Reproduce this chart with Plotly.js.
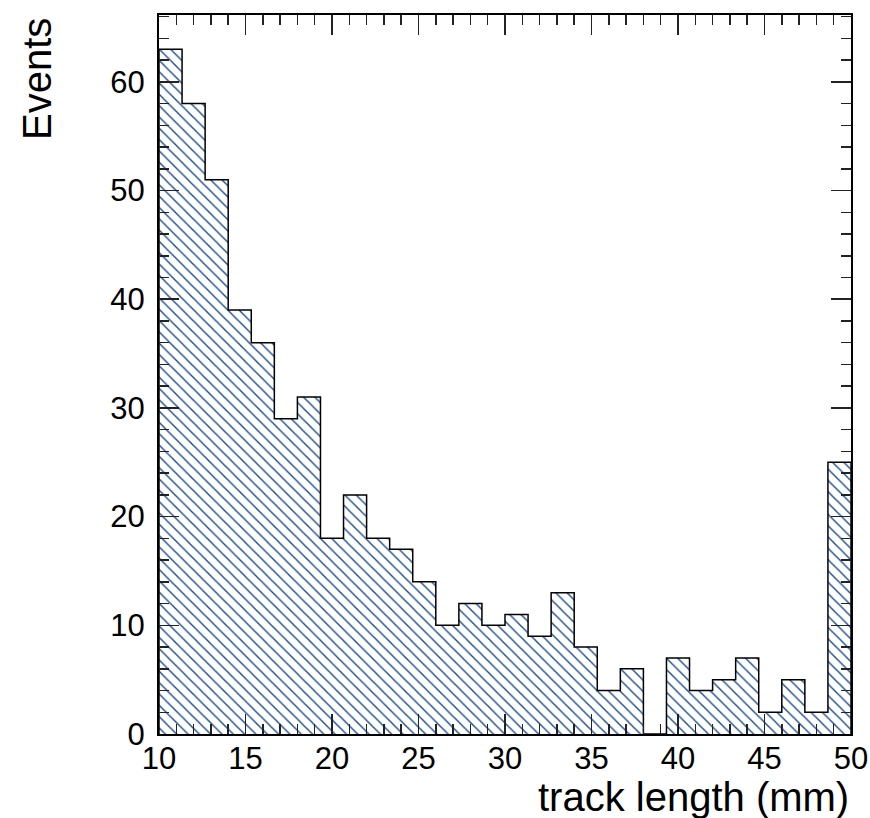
<!DOCTYPE html>
<html>
<head>
<meta charset="utf-8">
<script src="https://cdn.plot.ly/plotly-3.0.1.min.js"></script>
<style>html,body{margin:0;padding:0;background:#fff;}#chart{width:870px;height:818px;}</style>
</head>
<body>
<div id="chart"></div>
<script>
// Histogram: 30 bins from 10 to 50 mm
const xMin = 10;
const xMax = 50;
const counts = [63, 58, 51, 39, 36, 29, 31, 18, 22, 18, 17, 14, 10, 12, 10, 11, 9, 13, 8, 4, 6, 0, 7, 4, 5, 7, 2, 5, 2, 25];
const xTitle = "track length (mm)";
const yTitle = "Events";

const nBins = counts.length;
const binW = (xMax - xMin) / nBins;
const leftEdges = counts.map((_, i) => xMin + i * binW);
const stepX = [xMin].concat(leftEdges, [xMax, xMax]);
const stepY = [0].concat(counts, [counts[nBins - 1], 0]);

const font = "Liberation Sans, Arial, Helvetica, sans-serif";

const traces = [
  {
    type: "bar",
    x: leftEdges,
    y: counts,
    width: binW,
    offset: 0,
    marker: {
      color: "#1f4f8f",
      line: {width: 0},
      pattern: {shape: "\\", size: 8, solidity: 0.18, fgcolor: "#1f4f8f", bgcolor: "rgba(255,255,255,0)", fillmode: "replace"}
    },
    hoverinfo: "x+y"
  },
  {
    type: "scatter",
    mode: "lines",
    x: stepX,
    y: stepY,
    line: {shape: "hv", color: "#000", width: 1.5},
    hoverinfo: "skip"
  }
];

const axisCommon = {
  showline: true,
  linecolor: "#000",
  linewidth: 2,
  mirror: "allticks",
  ticks: "inside",
  ticklen: 20,
  tickwidth: 1.5,
  tickcolor: "#222",
  showgrid: false,
  zeroline: false,
  tickfont: {family: font, size: 31, color: "#000"}
};

const layout = {
  width: 870,
  height: 818,
  margin: {l: 159, r: 19, t: 15, b: 84},
  paper_bgcolor: "#fff",
  plot_bgcolor: "#fff",
  showlegend: false,
  bargap: 0,
  xaxis: Object.assign({}, axisCommon, {
    range: [xMin, xMax],
    tick0: 10,
    dtick: 5,
    ticklabelstandoff: -4,
    minor: {ticks: "inside", ticklen: 10, dtick: 1, tickwidth: 1.5, tickcolor: "#222", showgrid: false}
  }),
  yaxis: Object.assign({}, axisCommon, {
    range: [0, 66.15],
    tick0: 0,
    dtick: 10,
    ticklabelstandoff: 6,
    minor: {ticks: "inside", ticklen: 10, dtick: 2, tickwidth: 1.5, tickcolor: "#222", showgrid: false}
  }),
  annotations: [
    {
      text: xTitle, xref: "paper", yref: "paper", x: 1, y: 0,
      xanchor: "right", yanchor: "top", yshift: -39, showarrow: false,
      font: {family: font, size: 40, color: "#000"}
    },
    {
      text: yTitle, xref: "paper", yref: "paper", x: 0, y: 1,
      xanchor: "center", yanchor: "top", xshift: -122, yshift: -1, textangle: -90, showarrow: false,
      font: {family: font, size: 40, color: "#000"}
    }
  ]
};

Plotly.newPlot("chart", traces, layout, {displayModeBar: false, staticPlot: true});
</script>
</body>
</html>
